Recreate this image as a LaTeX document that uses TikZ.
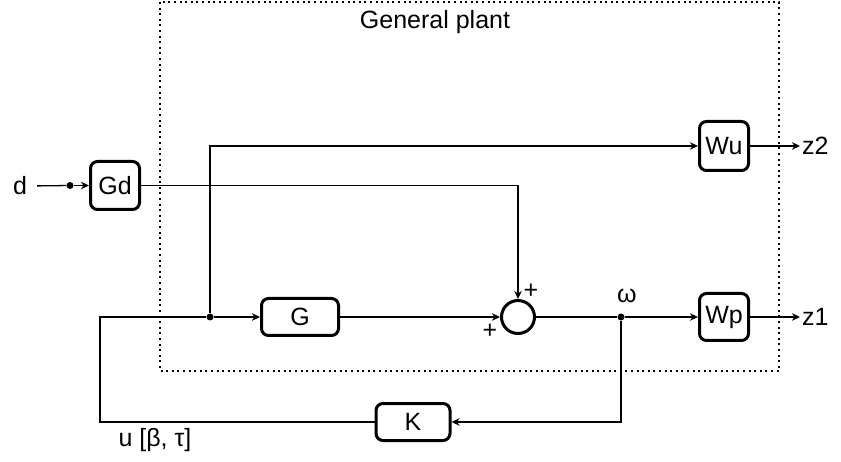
\documentclass[tikz,border=0pt]{standalone}
\usepackage{fontspec}
\setmainfont{Liberation Sans}
\usetikzlibrary{arrows.meta}
\begin{document}
\begin{tikzpicture}[x=1pt,y=-1pt,
  every node/.style={font=\fontsize{25}{29}\selectfont},
  blk/.style={draw, line width=3pt, rounded corners=7pt, inner sep=0pt},
  lbl/.style={inner sep=2pt},
  jdot/.style={circle, fill, inner sep=0pt, minimum size=7pt},
  arr/.style={-{Stealth[length=8pt,width=7.5pt,inset=2.5pt]}, line width=1.3pt},
  ln/.style={line width=1.3pt},
  plant/.style={line width=2pt, dash pattern=on 2pt off 3.6pt}]
\useasboundingbox (0,0) rectangle (841,462);
\draw[plant] (160,2) rectangle (779,371);
\node[lbl] (title) at (435,22) {General plant};
\node[blk, minimum width=49pt, minimum height=48pt] (Gd) at (115,185.5) {Gd};
\node[blk, minimum width=49pt, minimum height=49pt] (Wu) at (724,146) {Wu};
\node[blk, minimum width=49pt, minimum height=47pt] (Wp) at (724,317) {Wp};
\node[blk, minimum width=77pt, minimum height=37pt] (G) at (300,317) {G};
\node[blk, minimum width=74pt, minimum height=37pt] (K) at (413,422) {K};
\node[circle, draw, line width=3pt, minimum size=33pt, inner sep=0pt] (S) at (518,317) {};
\node[lbl] (d) at (20,186) {d};
\node[lbl, anchor=west] (z2) at (800,146) {z2};
\node[lbl, anchor=west] (z1) at (800,317) {z1};
\node[lbl] (om) at (627,296) {ω};
\node[lbl] (u) at (155,440) {u [β, τ]};
\node[lbl] (p1) at (531,291) {+};
\node[lbl] (p2) at (490,331) {+};
\node[jdot] (dd) at (70,185.5) {};
\node[jdot] (J) at (210,317) {};
\node[jdot] (W) at (621,317) {};
\coordinate (cL) at (100,317);
\draw[ln, shorten <=8pt] (d.east) -- (dd);
\draw[arr] (dd) -- (Gd.west);
\draw[arr] (Gd.east) -| (S.north);
\draw[arr] (J) |- (Wu.west);
\draw[arr] (J) -- (G.west);
\draw[arr] (G.east) -- (S.west);
\draw[ln] (S.east) -- (W);
\draw[arr] (W) -- (Wp.west);
\draw[arr] (Wu.east) -- (z2.west);
\draw[arr] (Wp.east) -- (z1.west);
\draw[arr] (W) |- (K.east);
\draw[ln] (K.west) -| (cL) -- (J);
\end{tikzpicture}
\end{document}
